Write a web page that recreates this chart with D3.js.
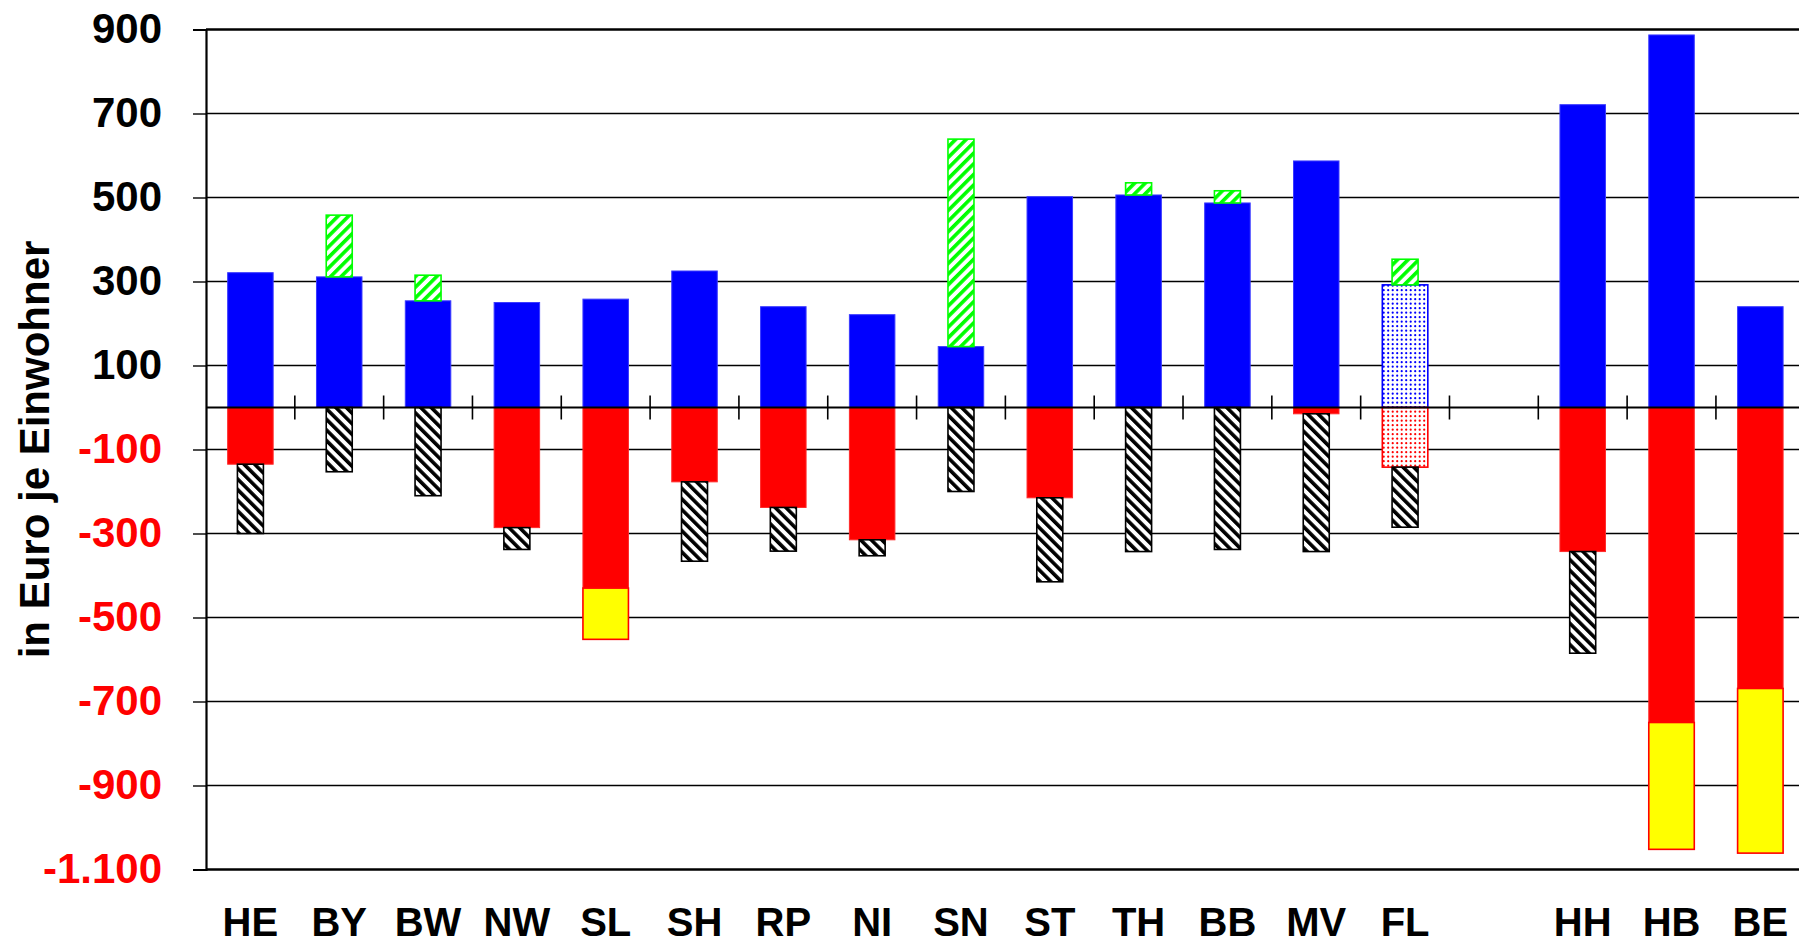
<!DOCTYPE html>
<html>
<head>
<meta charset="utf-8">
<script src="https://cdn.jsdelivr.net/npm/d3@7"></script>
<style>
  html, body { margin: 0; padding: 0; background: #fff; }
  svg { display: block; font-family: "Liberation Sans", Arial, sans-serif; }
</style>
</head>
<body>
<svg id="chart" width="1799" height="945"></svg>
<script>
// ---- data ----
const categories = ["HE","BY","BW","NW","SL","SH","RP","NI","SN","ST","TH","BB","MV","FL","","HH","HB","BE"];
const blueSolid    = [321, 311, 254, 250, 258, 325, 240, 221, 145, 502, 506, 487, 587,   0, 0, 721, 887, 240];
const blueDotted   = [  0,   0,   0,   0,   0,   0,   0,   0,   0,   0,   0,   0,   0, 292, 0,   0,   0,   0];
const greenHatched = [  0, 147,  61,   0,   0,   0,   0,   0, 494,   0,  29,  29,   0,  61, 0,   0,   0,   0];
const redSolid     = [-135,  0,   0,-286,-430,-177,-238,-315,   0,-215,   0,   0, -15,   0, 0,-343,-750,-669];
const redDotted    = [  0,   0,   0,   0,   0,   0,   0,   0,   0,   0,   0,   0,   0,-142, 0,   0,   0,   0];
const blackHatched = [-165,-153,-210, -52,   0,-189,-104, -38,-200,-200,-343,-338,-328,-143, 0,-242,   0,   0];
const yellowBar    = [  0,   0,   0,   0,-122,   0,   0,   0,   0,   0,   0,   0,   0,   0, 0,   0,-302,-392];
const yTicks = [900, 700, 500, 300, 100, -100, -300, -500, -700, -900, -1100];
const yTitle = "in Euro je Einwohner";

// ---- build table ----
const seriesArrays = {blueSolid, blueDotted, greenHatched, redSolid, redDotted, blackHatched, yellowBar};
const keys = Object.keys(seriesArrays);
const table = categories.map((c, i) => {
  const row = {cat: c};
  keys.forEach(k => row[k] = seriesArrays[k][i]);
  return row;
});
const stacked = d3.stack().keys(keys).offset(d3.stackOffsetDiverging)(table);

// ---- layout ----
const svg = d3.select("#chart");
const plotLeft = 206, plotTop = 29.5, plotBottom = 869.5;
const step = 88.82;
const x = d3.scaleBand().domain(categories).range([plotLeft, plotLeft + step * categories.length]).padding(0);
const y = d3.scaleLinear().domain([-1100, 900]).range([plotBottom, plotTop]);

const loc = d3.formatLocale({decimal: ",", thousands: ".", grouping: [3], currency: ["", "€"], minus: "-"});
const fmt = loc.format(",d");

// ---- patterns ----
const defs = svg.append("defs");
function hatch(id, color, angle) {
  const p = defs.append("pattern").attr("id", id).attr("patternUnits", "userSpaceOnUse")
    .attr("width", 7.5).attr("height", 7.5).attr("patternTransform", `rotate(${angle})`);
  p.append("rect").attr("width", 7.5).attr("height", 7.5).attr("fill", "#fff");
  p.append("rect").attr("x", 0).attr("width", 3.6).attr("height", 7.5).attr("fill", color);
}
hatch("hatchGreen", "#00ff00", 45);
hatch("hatchBlack", "#000000", -45);
function dots(id, color) {
  const p = defs.append("pattern").attr("id", id).attr("patternUnits", "userSpaceOnUse")
    .attr("width", 9).attr("height", 9);
  p.append("rect").attr("width", 9).attr("height", 9).attr("fill", "#fff");
  [[2.2, 2.2], [6.7, 6.7], [6.7, 2.2], [2.2, 6.7]].forEach(([cx, cy]) => {
    p.append("circle").attr("cx", cx).attr("cy", cy).attr("r", 1.1).attr("fill", color);
  });
}
dots("dotBlue", "#0000ff");
dots("dotRed", "#ff0000");

const styles = {
  blueSolid:    {fill: "#0000ff", stroke: "#3a3aff", sw: 1, w: 45.5},
  blueDotted:   {fill: "url(#dotBlue)", stroke: "#0000ff", sw: 1.6, w: 45.5},
  greenHatched: {fill: "url(#hatchGreen)", stroke: "#00ff00", sw: 1.6, w: 26},
  redSolid:     {fill: "#ff0000", stroke: "#ff2a2a", sw: 1, w: 45.5},
  redDotted:    {fill: "url(#dotRed)", stroke: "#ff0000", sw: 1.6, w: 45.5},
  blackHatched: {fill: "url(#hatchBlack)", stroke: "#000000", sw: 1.6, w: 26},
  yellowBar:    {fill: "#ffff00", stroke: "#ff0000", sw: 1.6, w: 45.5}
};

// ---- gridlines ----
const grid = svg.append("g");
grid.selectAll("line").data(yTicks).join("line")
  .attr("x1", plotLeft).attr("x2", 1799)
  .attr("y1", d => y(d)).attr("y2", d => y(d))
  .attr("stroke", "#000")
  .attr("stroke-width", d => (d === 900 || d === -1100) ? 2.6 : 1.4);

// ---- bars ----
stacked.forEach(s => {
  const st = styles[s.key];
  svg.append("g").selectAll("rect")
    .data(s.filter(d => d[1] - d[0] !== 0))
    .join("rect")
    .attr("x", d => x(d.data.cat) + (x.bandwidth() - st.w) / 2)
    .attr("width", st.w)
    .attr("y", d => y(d[1]))
    .attr("height", d => y(d[0]) - y(d[1]))
    .attr("fill", st.fill)
    .attr("stroke", st.stroke)
    .attr("stroke-width", st.sw);
});

// ---- zero axis with separator ticks ----
svg.append("line").attr("x1", plotLeft).attr("x2", 1799).attr("y1", y(0)).attr("y2", y(0))
  .attr("stroke", "#000").attr("stroke-width", 1.8);
svg.append("g").selectAll("line").data(categories.slice(1)).join("line")
  .attr("x1", d => x(d)).attr("x2", d => x(d))
  .attr("y1", y(0) - 12).attr("y2", y(0) + 12)
  .attr("stroke", "#000").attr("stroke-width", 1.6);

// ---- y axis ----
const yAxis = svg.append("g").attr("transform", `translate(${plotLeft},0)`)
  .call(d3.axisLeft(y).tickValues(yTicks).tickSize(13).tickPadding(31).tickFormat(fmt));
yAxis.select(".domain").attr("stroke", "#000").attr("stroke-width", 2.2);
yAxis.selectAll(".tick line").attr("stroke", "#000").attr("stroke-width", 1.4);
yAxis.selectAll(".tick text")
  .attr("font-family", "'Liberation Sans', Arial, sans-serif")
  .attr("font-size", 42).attr("font-weight", "bold")
  .attr("fill", d => d < 0 ? "#ff0000" : "#000");

// ---- x labels ----
svg.append("g").selectAll("text").data(categories).join("text")
  .attr("x", d => x(d) + x.bandwidth() / 2)
  .attr("y", 936)
  .attr("text-anchor", "middle")
  .attr("font-size", 40).attr("font-weight", "bold").attr("fill", "#000")
  .text(d => d);

// ---- y title ----
svg.append("text")
  .attr("transform", `translate(49,${(plotTop + plotBottom) / 2}) rotate(-90)`)
  .attr("text-anchor", "middle")
  .attr("font-size", 42).attr("font-weight", "bold").attr("fill", "#000")
  .text(yTitle);
</script>
</body>
</html>
